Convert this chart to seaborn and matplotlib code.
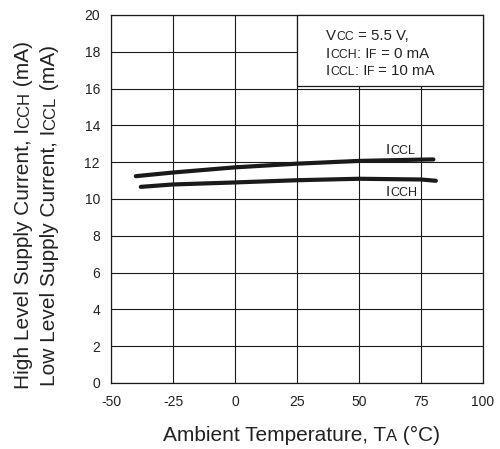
import matplotlib
matplotlib.use("Agg")
import matplotlib.pyplot as plt
import seaborn as sns
import pandas as pd
from matplotlib.patches import Rectangle

# ---- data ----
iccl_temp = [-40, -25, 0, 25, 50, 75, 80]
iccl_vals = [11.24, 11.44, 11.72, 11.92, 12.07, 12.14, 12.15]
icch_temp = [-38, -25, 0, 25, 50, 75, 81]
icch_vals = [10.66, 10.79, 10.90, 11.02, 11.10, 11.06, 10.99]
x_ticks = [-50, -25, 0, 25, 50, 75, 100]
y_ticks = [0, 2, 4, 6, 8, 10, 12, 14, 16, 18, 20]

sns.set_theme(style="white")
plt.rcParams['font.family'] = ['Liberation Sans', 'DejaVu Sans']

W, H = 500, 449
fig = plt.figure(figsize=(W / 100, H / 100), dpi=100)
ax = fig.add_axes([111 / W, 1 - 383 / H, (483 - 111) / W, (383 - 15) / H])

df_l = pd.DataFrame({"T": iccl_temp, "I": iccl_vals})
df_h = pd.DataFrame({"T": icch_temp, "I": icch_vals})
sns.lineplot(data=df_l, x="T", y="I", ax=ax, color="#1a1a1a", linewidth=3.0, zorder=5)
sns.lineplot(data=df_h, x="T", y="I", ax=ax, color="#1a1a1a", linewidth=3.0, zorder=5)

ax.set_xlim(-50, 100)
ax.set_ylim(0, 20)
ax.set_xticks(x_ticks)
ax.set_yticks(y_ticks)
ax.set_xticklabels([str(v) for v in x_ticks], fontsize=10, color="#222222")
ax.set_yticklabels([str(v) for v in y_ticks], fontsize=10, color="#222222")
ax.tick_params(axis="x", length=0, pad=9)
ax.tick_params(axis="y", length=0, pad=8)
ax.set_xlabel("")
ax.set_ylabel("")
ax.grid(True, color="#1a1a1a", linewidth=0.8)
ax.set_axisbelow(True)
for s in ax.spines.values():
    s.set_color("#1a1a1a")
    s.set_linewidth(0.9)

# condition box
ax.add_patch(Rectangle((25, 16.15), 75, 3.85, facecolor="white", edgecolor="#1a1a1a",
                       linewidth=0.9, zorder=3, transform=ax.transData, clip_on=False))

renderer = fig.canvas.get_renderer()


def rich(x_px, y_px_top, pieces, rotation=0, color="#222222"):
    """Draw text pieces of differing size along a shared baseline.
    x_px, y_px_top in pixel coords measured from the top-left corner."""
    pos = 0.0
    for s, size in pieces:
        if rotation == 0:
            t = fig.text((x_px + pos) / W, 1 - y_px_top / H, s, fontsize=size,
                         ha="left", va="baseline", color=color, zorder=10)
            pos += t.get_window_extent(renderer).width
        else:
            t = fig.text(x_px / W, 1 - (y_px_top - pos) / H, s, fontsize=size,
                         rotation=90, rotation_mode="anchor",
                         ha="left", va="baseline", color=color, zorder=10)
            pos += t.get_window_extent(renderer).height


big, small = 11.0, 9.0
rich(386, 154, [("I", big), ("CCL", small)])
rich(386, 196, [("I", big), ("CCH", small)])

tb, ts = 10.8, 8.8
rich(326, 40, [("V", tb), ("CC", ts), (" = 5.5 V,", tb)])
rich(326, 57.5, [("I", tb), ("CCH", ts), (": I", tb), ("F", ts), (" = 0 mA", tb)])
rich(326, 75, [("I", tb), ("CCL", ts), (": I", tb), ("F", ts), (" = 10 mA", tb)])

lb, ls = 15.0, 12.0
rich(163, 441, [("Ambient Temperature, T", lb), ("A", ls), (" (°C)", lb)])
rich(29, 389, [("High Level Supply Current, I", lb), ("CCH", ls), (" (mA)", lb)], rotation=90)
rich(55, 386, [("Low Level Supply Current, I", lb), ("CCL", ls), (" (mA)", lb)], rotation=90)

fig.savefig("out.png", dpi=100, facecolor="white")
